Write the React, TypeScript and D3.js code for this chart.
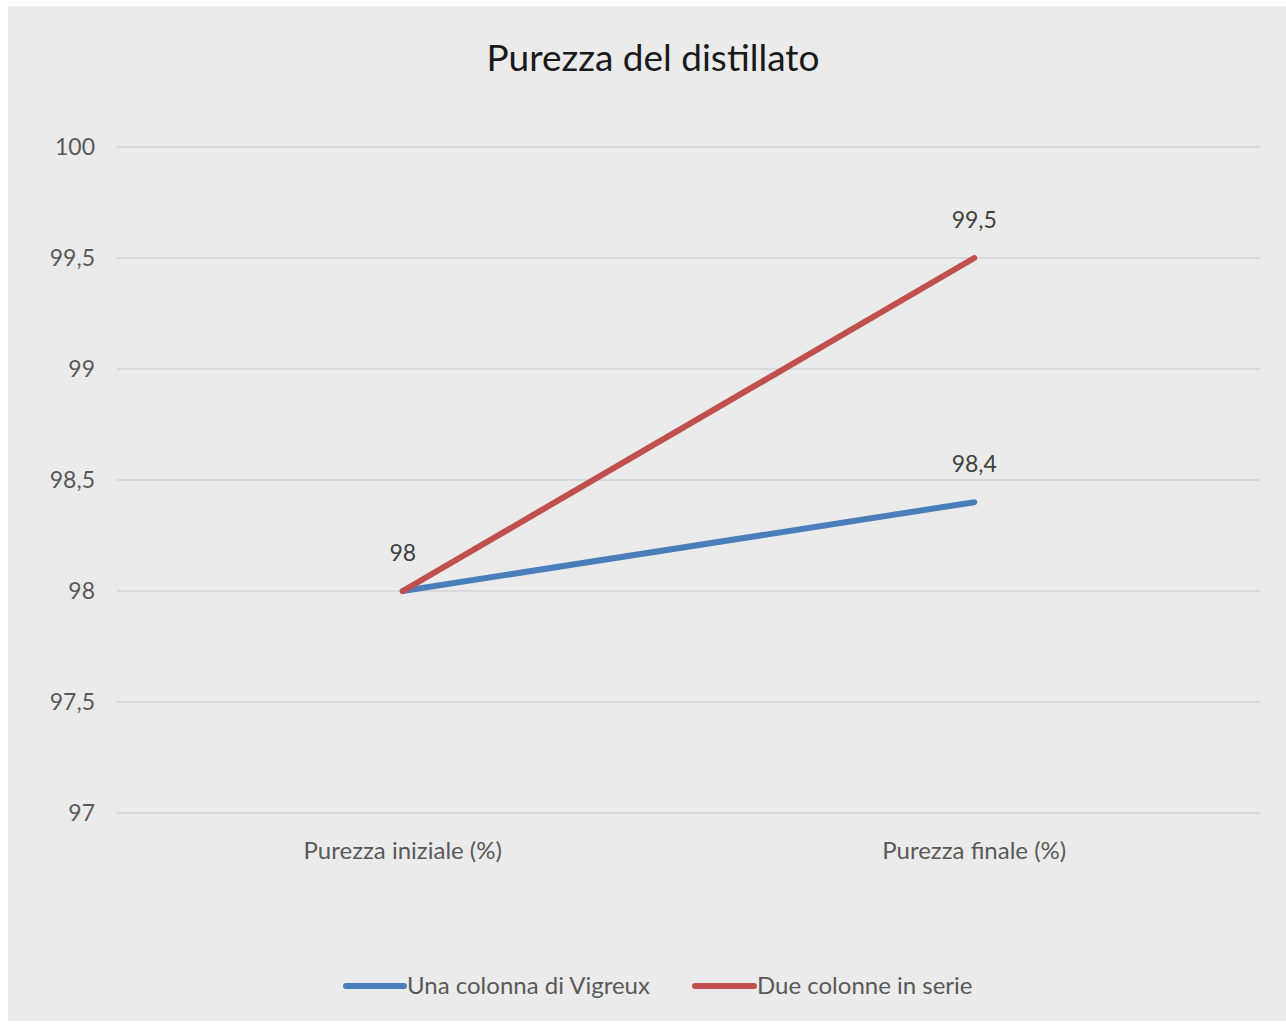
import React, { useEffect, useRef } from "react";
import * as d3 from "d3";

const categories = ["Purezza iniziale (%)", "Purezza finale (%)"];
const seriesNames = ["Una colonna di Vigreux", "Due colonne in serie"];
const vigreux = [98, 98.4];
const dueColonne = [98, 99.5];
const yTicks = [97, 97.5, 98, 98.5, 99, 99.5, 100];
const colors = ["#4a7ebb", "#c0504d"];
const titleText = "Purezza del distillato";

const W = 1286;
const H = 1024;
const FONT = "Lato, 'Open Sans', sans-serif";

export default function App() {
  const ref = useRef<SVGSVGElement | null>(null);

  useEffect(() => {
    const svg = d3.select(ref.current);
    svg.selectAll("*").remove();

    svg.append("rect").attr("width", W).attr("height", H).attr("fill", "#ffffff");
    svg.append("rect").attr("x", 8).attr("y", 6).attr("width", W - 8).attr("height", H - 9).attr("fill", "#ebebeb");

    const left = 117, right = 1260, top = 147, bottom = 813;
    const x = d3.scaleBand<string>().domain(categories).range([left, right]);
    const y = d3.scaleLinear().domain([97, 100]).range([bottom, top]);
    const fmt = (v: number) => String(v).replace(".", ",");

    // title
    svg.append("text").attr("x", 653).attr("y", 71).attr("text-anchor", "middle")
      .attr("font-family", FONT).attr("font-size", 37).attr("fill", "#1a1a1a").text(titleText);

    // gridlines
    svg.append("g").selectAll("line").data(yTicks).join("line")
      .attr("x1", left).attr("x2", right)
      .attr("y1", d => y(d)).attr("y2", d => y(d))
      .attr("stroke", "#d9d9d9").attr("stroke-width", 2);

    // y tick labels
    svg.append("g").selectAll("text").data(yTicks).join("text")
      .attr("x", 95).attr("y", d => y(d)).attr("dy", "0.35em").attr("text-anchor", "end")
      .attr("font-family", FONT).attr("font-size", 23).attr("fill", "#595959")
      .text(d => fmt(d));

    // x labels
    svg.append("g").selectAll("text").data(categories).join("text")
      .attr("x", d => (x(d) as number) + x.bandwidth() / 2).attr("y", 859).attr("text-anchor", "middle")
      .attr("font-family", FONT).attr("font-size", 24).attr("fill", "#595959")
      .text(d => d);

    const cx = (i: number) => (x(categories[i]) as number) + x.bandwidth() / 2;
    const line = d3.line<number>().x((_, i) => cx(i)).y(d => y(d));
    const series = [vigreux, dueColonne];

    series.forEach((s, k) => {
      svg.append("path").datum(s).attr("d", line).attr("fill", "none")
        .attr("stroke", colors[k]).attr("stroke-width", 6)
        .attr("stroke-linecap", "round").attr("stroke-linejoin", "round");
    });

    // data labels
    const labels: { x: number; y: number; t: string; k: string }[] = [];
    series.forEach(s => s.forEach((v, i) => {
      const key = `${i}-${v}`;
      if (!labels.find(l => l.k === key)) labels.push({ x: cx(i), y: y(v), t: fmt(v), k: key });
    }));
    svg.append("g").selectAll("text").data(labels).join("text")
      .attr("x", d => d.x).attr("y", d => d.y - 30).attr("text-anchor", "middle")
      .attr("font-family", FONT).attr("font-size", 23).attr("fill", "#404040")
      .text(d => d.t);

    // legend
    const legend = [
      { x1: 346, x2: 404, tx: 407, name: seriesNames[0], c: colors[0] },
      { x1: 695, x2: 754, tx: 757, name: seriesNames[1], c: colors[1] },
    ];
    const lg = svg.append("g");
    legend.forEach(l => {
      lg.append("line").attr("x1", l.x1).attr("x2", l.x2).attr("y1", 986).attr("y2", 986)
        .attr("stroke", l.c).attr("stroke-width", 6).attr("stroke-linecap", "round");
      lg.append("text").attr("x", l.tx).attr("y", 986).attr("dy", "0.35em")
        .attr("font-family", FONT).attr("font-size", 24).attr("fill", "#595959").text(l.name);
    });
  }, []);

  return (
    <div style={{ position: "absolute", left: 0, top: 0 }}>
      <svg ref={ref} width={W} height={H} style={{ display: "block" }} />
    </div>
  );
}
